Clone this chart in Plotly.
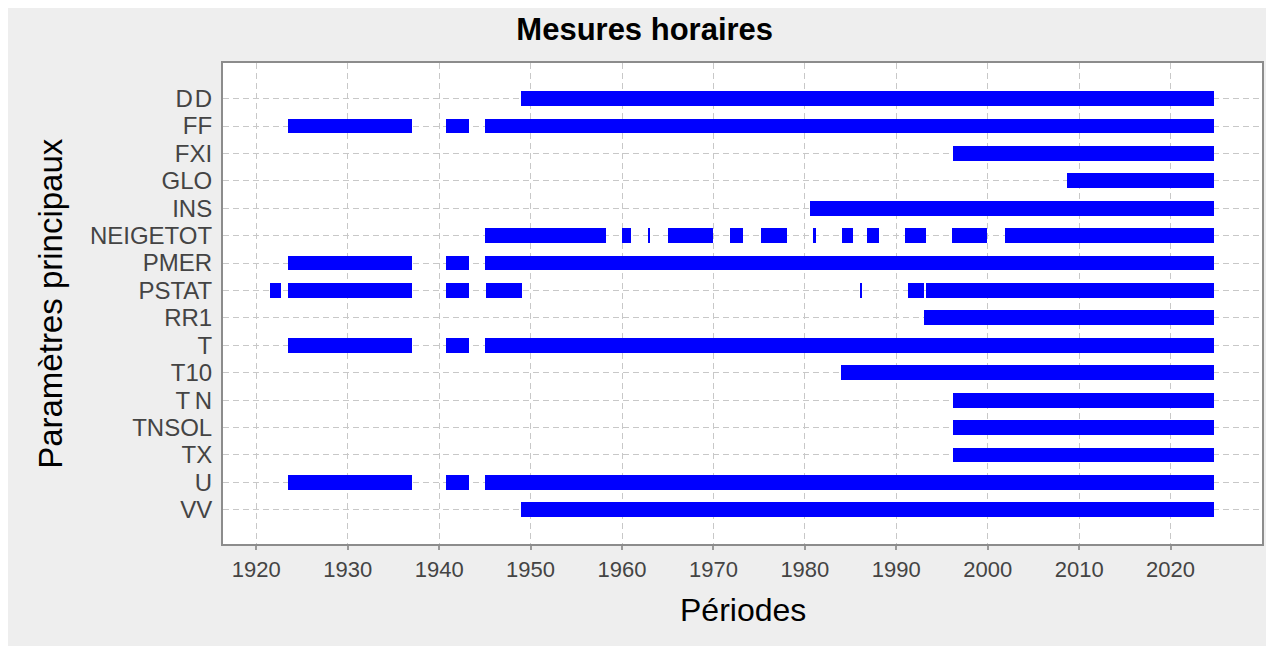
import plotly.graph_objects as go

parametres = ["DD", "FF", "FXI", "GLO", "INS", "NEIGETOT", "PMER", "PSTAT",
              "RR1", "T", "T10", "TN", "TNSOL", "TX", "U", "VV"]
param_labels = ["D\u200aD", "FF", "FXI", "GLO", "INS", "NEIGETOT", "PMER", "PSTAT",
                "RR1", "T", "T10", "T\u2009N", "TNSOL", "TX", "U", "VV"]

# segments of available hourly measurements (parameter, start year, end year)
seg_param = (["DD"]
             + ["FF"] * 3
             + ["FXI", "GLO", "INS"]
             + ["NEIGETOT"] * 12
             + ["PMER"] * 3
             + ["PSTAT"] * 7
             + ["RR1"]
             + ["T"] * 3
             + ["T10", "TN", "TNSOL", "TX"]
             + ["U"] * 3
             + ["VV"])
seg_start = ([1949.0]
             + [1923.5, 1940.8, 1945.05]
             + [1996.2, 2008.7, 1980.6]
             + [1945.05, 1960.0, 1962.95, 1965.0, 1971.8, 1975.15, 1980.85,
                1984.1, 1986.85, 1990.9, 1996.1, 2001.9]
             + [1923.5, 1940.8, 1945.05]
             + [1921.55, 1923.5, 1940.8, 1945.15, 1986.05, 1991.3, 1993.3]
             + [1993.0]
             + [1923.5, 1940.8, 1945.05]
             + [1984.0, 1996.2, 1996.2, 1996.2]
             + [1923.5, 1940.8, 1945.05]
             + [1949.0])
seg_end = ([2024.8]
           + [1937.05, 1943.3, 2024.8]
           + [2024.8, 2024.8, 2024.8]
           + [1958.25, 1961.0, 1963.1, 1969.95, 1973.2, 1978.1, 1981.2,
              1985.3, 1988.15, 1993.2, 1999.95, 2024.8]
           + [1937.05, 1943.3, 2024.8]
           + [1922.75, 1937.05, 1943.3, 1949.05, 1986.2, 1993.05, 2024.8]
           + [2024.8]
           + [1937.05, 1943.3, 2024.8]
           + [2024.8, 2024.8, 2024.8, 2024.8]
           + [1937.05, 1943.3, 2024.8]
           + [2024.8])

x_ticks = [1920, 1930, 1940, 1950, 1960, 1970, 1980, 1990, 2000, 2010, 2020]

durations = [e - s for s, e in zip(seg_start, seg_end)]

fig = go.Figure()
fig.add_trace(go.Bar(
    y=seg_param, x=durations, base=seg_start, orientation="h",
    width=0.54, marker=dict(color="#0000ff", line=dict(width=0)),
    showlegend=False, hoverinfo="skip",
))

FONT = "Liberation Sans, Arial, sans-serif"
# the page body adds an 8px offset, so the figure is 8px smaller
W, H = 1266, 638
L, R, T, B = 215, 10, 55, 102
pw, ph = W - L - R, H - T - B

fig.update_layout(
    width=W, height=H,
    margin=dict(l=L, r=R, t=T, b=B, pad=0),
    paper_bgcolor="#eeeeee", plot_bgcolor="#ffffff",
    font=dict(family=FONT, color="#444444"),
    title=dict(text="<b>Mesures horaires</b>", x=636.7 / W, xref="container",
               xanchor="center", y=1 - 21.5 / H, yref="container", yanchor="middle",
               font=dict(family=FONT, size=31, color="#000000")),
    bargap=0,
    xaxis=dict(range=[1916.36, 2030.0], tickvals=x_ticks,
               ticktext=[str(v) for v in x_ticks],
               showgrid=True, gridcolor="#c8c8c8", gridwidth=1, griddash="6px,4px",
               showline=True, linecolor="#8c8c8c", linewidth=2, mirror=True,
               ticks="outside", ticklen=4, tickwidth=2, tickcolor="#9a9a9a",
               tickfont=dict(family=FONT, size=22, color="#444444"),
               ticklabelstandoff=1, zeroline=False, fixedrange=True),
    yaxis=dict(type="category", categoryorder="array", categoryarray=parametres,
               tickvals=parametres, ticktext=param_labels,
               range=[15 + 1.25, -1.3],
               showgrid=True, gridcolor="#c8c8c8", gridwidth=1, griddash="6px,4px",
               showline=True, linecolor="#8c8c8c", linewidth=2, mirror=True,
               ticks="", tickfont=dict(family=FONT, size=24, color="#444444"),
               ticklabelstandoff=4, zeroline=False, fixedrange=True),
    annotations=[
        dict(text="Périodes", xref="paper", yref="paper", x=0.5,
             y=-(602 - (T + ph)) / ph, xanchor="center", yanchor="middle",
             showarrow=False, font=dict(family=FONT, size=32, color="#000000")),
        dict(text="Paramètres principaux", xref="paper", yref="paper",
             x=-(L - 42) / pw, y=0.5, xanchor="center", yanchor="middle",
             textangle=-90, showarrow=False,
             font=dict(family=FONT, size=33, color="#000000")),
    ],
)

fig.write_html("out.html")
